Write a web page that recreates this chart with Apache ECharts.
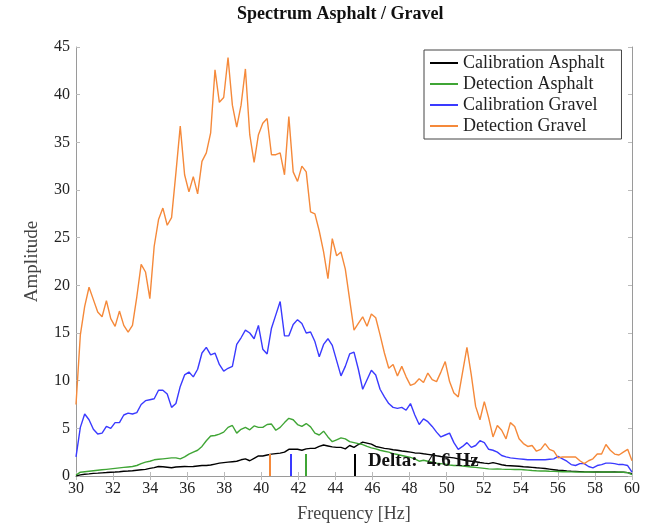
<!DOCTYPE html>
<html>

<head>
    <meta charset="utf-8" />
    <title>Spectrum Asphalt / Gravel</title>
    <style>
    body {
        margin: 0;
        background: #fff;
    }
    #chart {
        width: 659px;
        height: 528px;
    }
    </style>
    <script src="https://cdn.jsdelivr.net/npm/echarts@6/dist/echarts.min.js"></script>
</head>

<body>
    <div id="chart"></div>
    <script>
    // frequency grid: 129 samples from 30 to 60 Hz
    var STEP = 30 / 128;
    var freq = Array.from({ length: 129 }, function(_, i) { return 30 + i * STEP; });

    var xTicks = [30, 32, 34, 36, 38, 40, 42, 44, 46, 48, 50, 52, 54, 56, 58, 60];
    var yTicks = [0, 5, 10, 15, 20, 25, 30, 35, 40, 45];

    var seriesNames = ['Calibration Asphalt', 'Detection Asphalt', 'Calibration Gravel', 'Detection Gravel'];
    var seriesColors = ['#000000', '#3fa535', '#3a3aff', '#f5893a'];

    // amplitude readings
    var calAsphalt = [
        0.0, 0.12, 0.18, 0.22, 0.28, 0.3, 0.33, 0.36, 0.4, 0.42, 0.45, 0.5, 0.52, 0.55, 0.6, 0.65,
        0.7, 0.8, 0.88, 1.0, 0.97, 0.92, 0.87, 0.94, 0.97, 1.0, 0.98, 1.0, 1.05, 1.1, 1.1, 1.15,
        1.25, 1.35, 1.4, 1.45, 1.5, 1.55, 1.7, 1.8, 1.6, 1.85, 2.1, 2.1, 2.2, 2.3, 2.35, 2.4,
        2.5, 2.8, 2.8, 2.8, 2.7, 2.85, 2.9, 2.9, 3.1, 3.25, 3.15, 3.05, 3.0, 3.0, 2.85, 3.2,
        3.0, 3.3, 3.55, 3.45, 3.35, 3.1, 3.0, 2.9, 2.85, 2.75, 2.7, 2.62, 2.57, 2.5, 2.42, 2.4,
        2.33, 2.27, 2.2, 2.12, 2.05, 2.0, 1.95, 1.9, 1.8, 1.7, 1.6, 1.55, 1.5, 1.42, 1.35, 1.3,
        1.4, 1.3, 1.18, 1.1, 1.08, 1.05, 1.02, 0.97, 0.94, 0.9, 0.86, 0.83, 0.78, 0.72, 0.66, 0.6,
        0.57, 0.53, 0.5, 0.48, 0.46, 0.44, 0.43, 0.42, 0.43, 0.42, 0.43, 0.42, 0.42, 0.41, 0.4, 0.35,
        0.24
    ];
    var detAsphalt = [
        0.1, 0.4, 0.45, 0.5, 0.55, 0.6, 0.65, 0.7, 0.75, 0.8, 0.85, 0.9, 0.95, 1.0, 1.1, 1.3,
        1.45, 1.55, 1.7, 1.75, 1.8, 1.85, 1.9, 1.9, 1.8, 2.0, 2.3, 2.5, 2.7, 3.1, 3.7, 4.2,
        4.25, 4.4, 4.6, 5.1, 5.3, 4.5, 4.9, 5.1, 4.85, 5.25, 5.1, 5.1, 5.4, 5.45, 4.8, 5.1,
        5.6, 6.05, 5.9, 5.4, 5.2, 5.5, 5.15, 4.5, 4.3, 4.7, 4.1, 3.6, 3.8, 4.0, 3.9, 3.6,
        3.5, 3.4, 3.3, 3.1, 2.95, 2.85, 2.7, 2.6, 2.5, 2.35, 2.25, 2.15, 2.05, 1.95, 1.8, 1.55,
        1.65, 1.55, 1.45, 1.35, 1.3, 1.25, 1.15, 1.1, 1.1, 1.05, 1.0, 0.95, 0.9, 0.85, 0.8, 0.75,
        0.72, 0.75, 0.72, 0.7, 0.7, 0.68, 0.7, 0.66, 0.62, 0.58, 0.55, 0.53, 0.52, 0.5, 0.49, 0.47,
        0.45, 0.44, 0.43, 0.42, 0.41, 0.42, 0.43, 0.42, 0.41, 0.42, 0.43, 0.42, 0.41, 0.42, 0.4, 0.35,
        0.14
    ];
    var calGravel = [
        2.0, 5.1, 6.5, 5.9, 4.9, 4.4, 4.5, 5.2, 5.0, 5.6, 5.6, 6.4, 6.6, 6.5, 6.65, 7.5,
        7.9, 8.0, 8.1, 9.0, 9.0, 8.6, 7.2, 7.6, 9.4, 10.6, 10.9, 10.4, 11.2, 12.9, 13.5, 12.7,
        12.9, 11.7, 11.0, 11.3, 11.5, 13.8, 14.5, 15.3, 15.0, 14.4, 15.8, 13.3, 12.8, 15.5, 16.9, 18.3,
        14.7, 14.7, 15.9, 16.4, 16.0, 15.0, 15.1, 14.1, 12.5, 13.8, 14.4, 13.7, 12.1, 10.5, 11.5, 12.8,
        13.0, 11.2, 9.1, 10.1, 11.1, 10.6, 9.1, 8.3, 7.6, 7.2, 7.1, 7.2, 6.9, 7.6, 6.4, 5.4,
        6.0, 5.7, 5.2, 4.6, 4.1, 4.3, 4.5, 3.5, 2.8, 3.1, 3.5, 3.0, 3.2, 3.7, 3.5, 2.8,
        2.7, 2.5, 2.15, 2.0, 1.9, 1.85, 1.8, 1.75, 1.7, 1.7, 1.7, 1.7, 1.7, 1.75, 1.8, 2.05,
        1.8, 1.55, 1.2, 1.1, 1.3, 1.3, 1.0, 0.86, 1.1, 1.2, 1.35, 1.35, 1.3, 1.2, 1.2, 1.1,
        0.4
    ];
    var detGravel = [
        7.5, 14.8, 17.8, 19.8, 18.5, 17.2, 16.7, 18.4, 16.5, 15.7, 17.3, 15.8, 15.1, 15.8, 18.8, 22.2,
        21.4, 18.6, 24.1, 26.9, 28.1, 26.3, 27.1, 31.8, 36.7, 31.6, 29.8, 31.4, 29.6, 33.0, 33.9, 36.0,
        42.6, 39.2, 39.7, 43.9, 38.9, 36.6, 38.9, 42.7, 35.8, 32.9, 35.8, 37.0, 37.5, 33.7, 33.7, 33.9,
        31.6, 37.7, 31.9, 30.9, 32.5, 31.9, 27.7, 27.5, 25.7, 23.5, 20.7, 24.9, 23.1, 23.5, 21.7, 18.5,
        15.3, 16.0, 16.7, 15.7, 17.0, 16.6, 14.8, 12.9, 11.3, 11.7, 10.5, 11.5, 10.4, 9.5, 9.7, 10.2,
        9.8, 10.8, 10.1, 9.9, 10.9, 12.0, 9.9, 8.7, 8.3, 10.9, 13.5, 10.6, 7.3, 5.9, 7.8, 6.1,
        4.1, 5.3, 4.8, 3.9, 5.6, 5.2, 3.9, 3.4, 3.1, 3.2, 2.6, 2.8, 3.4, 2.8, 2.6, 1.9,
        2.0, 2.0, 2.0, 2.0, 1.6, 1.3, 1.6, 1.8, 2.3, 2.3, 3.3, 2.7, 2.3, 2.2, 2.5, 2.8,
        1.6
    ];

    // detected peak frequencies (markers) and their height
    var peakFreqs = [45.05, 42.4, 41.6, 40.45];
    var markerHeight = 2.3;

    var serif = '"Liberation Serif", "DejaVu Serif", serif';
    var frameColor = '#9a9a9a';

    function pairs(values) {
        return freq.map(function(f, i) { return [f, values[i]]; });
    }

    var allValues = [calAsphalt, detAsphalt, calGravel, detGravel];
    var delta = (peakFreqs[0] - peakFreqs[3]).toFixed(1);

    var series = allValues.map(function(vals, k) {
        var s = {
            name: seriesNames[k],
            type: 'line',
            data: pairs(vals),
            symbol: 'none',
            lineStyle: { width: 1.4, color: seriesColors[k] },
            itemStyle: { color: seriesColors[k] },
            markLine: {
                silent: true,
                symbol: 'none',
                label: { show: false },
                lineStyle: { color: seriesColors[k], width: 2, type: 'solid' },
                data: [[{ coord: [peakFreqs[k], 0] }, { coord: [peakFreqs[k], markerHeight] }]]
            }
        };
        if (k === 0) {
            s.markPoint = {
                silent: true,
                symbol: 'circle',
                symbolSize: 0,
                data: [{ coord: [peakFreqs[0] + 0.7, 1.55] }],
                label: {
                    show: true,
                    position: 'right',
                    distance: 0,
                    formatter: 'Delta:  ' + delta + ' Hz',
                    fontFamily: serif,
                    fontWeight: 'bold',
                    fontSize: 19,
                    color: '#111'
                }
            };
        }
        return s;
    });

    function xAxisDef(pos, labels) {
        return {
            type: 'value',
            position: pos,
            min: xTicks[0],
            max: xTicks[xTicks.length - 1],
            interval: 2,
            name: labels ? 'Frequency [Hz]' : '',
            nameLocation: 'middle',
            nameGap: 29,
            nameTextStyle: { fontFamily: serif, fontSize: 18, color: '#444' },
            axisLine: { show: true, lineStyle: { color: frameColor, width: 1 } },
            axisTick: { show: true, inside: true, length: 4, lineStyle: { color: '#bbb' } },
            axisLabel: { show: labels, fontFamily: serif, fontSize: 16, color: '#222', margin: 5 },
            splitLine: { show: false }
        };
    }

    function yAxisDef(pos, labels) {
        return {
            type: 'value',
            position: pos,
            min: yTicks[0],
            max: yTicks[yTicks.length - 1],
            interval: 5,
            name: labels ? 'Amplitude' : '',
            nameLocation: 'middle',
            nameGap: 34,
            nameTextStyle: { fontFamily: serif, fontSize: 19, color: '#444' },
            axisLine: { show: true, lineStyle: { color: frameColor, width: 1 } },
            axisTick: { show: true, inside: true, length: 4, lineStyle: { color: '#bbb' } },
            axisLabel: { show: labels, fontFamily: serif, fontSize: 16, color: '#222', margin: 6 },
            splitLine: { show: false }
        };
    }

    var option = {
        animation: false,
        backgroundColor: '#fff',
        graphic: [{
            type: 'text',
            left: 237,
            top: 5,
            style: {
                text: 'Spectrum Asphalt / Gravel',
                font: 'bold 18px ' + serif,
                fill: '#111'
            }
        }],
        grid: { left: 76, right: 27, top: 47, bottom: 49 },
        legend: {
            data: seriesNames,
            orient: 'vertical',
            left: 424,
            top: 50,
            padding: [4, 17, 4, 6],
            icon: 'rect',
            itemWidth: 28,
            itemHeight: 2,
            itemGap: 3,
            borderColor: '#444',
            borderWidth: 1,
            backgroundColor: '#fff',
            textStyle: { fontFamily: serif, fontSize: 18, color: '#222', lineHeight: 18 }
        },
        xAxis: [xAxisDef('bottom', true), xAxisDef('top', false)],
        yAxis: [yAxisDef('left', true), yAxisDef('right', false)],
        series: series
    };

    var chart = echarts.init(document.getElementById('chart'));
    chart.setOption(option);
    </script>
</body>

</html>
